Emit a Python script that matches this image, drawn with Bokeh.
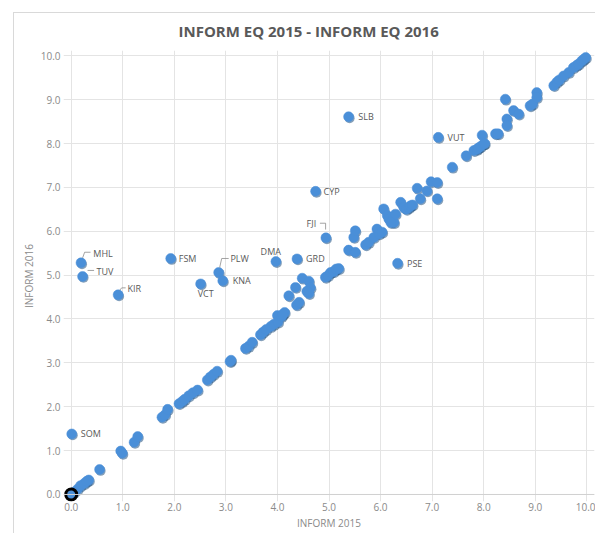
from bokeh.plotting import figure
from bokeh.models import FixedTicker, NumeralTickFormatter, Span, ColumnDataSource, InlineStyleSheet
from bokeh.core.properties import value
from bokeh.embed import file_html
from bokeh.resources import INLINE

# ---------------- data ----------------
title_text = "INFORM EQ 2015 - INFORM EQ 2016"
x_title = "INFORM 2015"
y_title = "INFORM 2016"
tick_values = [0, 1, 2, 3, 4, 5, 6, 7, 8, 9, 10]

# labelled countries (INFORM 2015, INFORM 2016)
codes = ["MHL", "TUV", "KIR", "FSM", "PLW", "VCT", "KNA", "DMA", "GRD", "FJI",
         "CYP", "SLB", "VUT", "PSE", "SOM"]
code_x = [0.19, 0.22, 0.91, 1.93, 2.86, 2.51, 2.94, 3.97, 4.38, 4.94,
          4.74, 5.38, 7.12, 6.33, 0.01]
code_y = [5.28, 4.97, 4.55, 5.38, 5.06, 4.80, 4.87, 5.31, 5.37, 5.85,
          6.91, 8.61, 8.14, 5.27, 1.38]

# other countries (INFORM 2015)
other_x = [0.05, 0.12, 0.18, 0.25, 0.30, 0.34, 0.55, 0.96, 0.99, 1.22, 1.29,
           1.76, 1.82, 1.87, 2.09, 2.15, 2.20, 2.28, 2.36, 2.45, 2.64, 2.70,
           2.76, 2.83, 3.08, 3.10, 3.38, 3.44, 3.51, 3.67, 3.72, 3.78, 3.87,
           3.93, 4.01, 4.00, 4.08, 4.14, 4.10, 4.22, 4.35, 4.37, 4.42, 4.48,
           4.61, 4.64, 4.61, 4.57, 4.93, 4.98, 5.03, 5.09, 5.14, 5.19, 5.38,
           5.51, 5.48, 5.51, 5.71, 5.77, 5.87, 5.93, 5.97, 6.03, 6.06, 6.13,
           6.16, 6.22, 6.26, 6.29, 6.20, 6.39, 6.45, 6.50, 6.55, 6.58, 6.62,
           6.71, 6.77, 6.90, 6.98, 7.10, 7.10, 7.39, 7.66, 7.81, 7.87, 7.90,
           7.94, 8.00, 7.97, 8.02, 8.23, 8.28, 8.42, 8.45, 8.45, 8.58, 8.68,
           8.90, 8.95, 9.03, 9.03, 9.36, 9.42, 9.47, 9.55, 9.65, 9.74, 9.80,
           9.84, 9.90, 9.94, 9.98]
# other countries (INFORM 2016)
other_y = [0.05, 0.12, 0.20, 0.25, 0.30, 0.33, 0.57, 0.99, 0.94, 1.19, 1.32,
           1.76, 1.82, 1.94, 2.07, 2.12, 2.17, 2.25, 2.32, 2.38, 2.61, 2.68,
           2.74, 2.81, 3.03, 3.06, 3.33, 3.38, 3.47, 3.64, 3.70, 3.76, 3.83,
           3.88, 3.93, 4.08, 4.06, 4.15, 4.10, 4.53, 4.72, 4.32, 4.38, 4.93,
           4.86, 4.71, 4.58, 4.63, 4.95, 4.99, 5.06, 5.08, 5.14, 5.15, 5.57,
           5.52, 5.86, 6.01, 5.69, 5.75, 5.86, 6.05, 5.94, 5.98, 6.51, 6.36,
           6.28, 6.24, 6.20, 6.39, 6.20, 6.66, 6.54, 6.50, 6.54, 6.58, 6.60,
           6.98, 6.74, 6.92, 7.13, 7.11, 6.74, 7.46, 7.72, 7.84, 7.87, 7.90,
           7.93, 7.99, 8.19, 8.00, 8.22, 8.22, 9.01, 8.56, 8.41, 8.75, 8.67,
           8.86, 8.90, 9.16, 9.05, 9.32, 9.40, 9.45, 9.54, 9.62, 9.73, 9.78,
           9.81, 9.88, 9.92, 9.96]

# highlighted country at the origin
origin_x = [0.0]
origin_y = [0.0]

# ---------------- layout / style ----------------
W, H = 595, 533
BL, BR, BT, BB = 63, 1, 50, 32
X0, X1 = -0.15, 10.15
Y0, Y1 = -0.16, 10.12
KX = (W - BL - BR) / (X1 - X0)   # pixels per unit
KY = (H - BT - BB) / (Y1 - Y0)

BLUE = "#4a8fd8"
SHADOW = "#23527f"
GREY_TXT = "#595959"
TICK_TXT = "#8a8a8a"
FONT = "Open Sans"

# label offsets in pixels (dx right, dy down)
lab_dx = [12.3, 14.0, 9.3, 8.0, 11.7, -3.0, 10.0, -15.3, 9.0, -19.3, 8.0, 9.7, 9.3, 9.4, 9.0]
lab_dy = [-9.6, -5.3, -6.6, 0.0, -14.0, 10.0, 0.0, -10.0, 0.0, -14.0, 0.0, 0.0, 0.0, 0.0, 0.0]
# leader lines (pixel offsets from the dot), per labelled code
leaders = {
    "MHL": [(1.6, -5.0), (3.6, -10.6), (9.5, -10.6)],
    "TUV": [(5.0, -6.0), (11.5, -6.0)],
    "KIR": [(1.5, -4.5), (3.5, -7.0), (7.5, -7.0)],
    "PLW": [(1.0, -5.0), (3.0, -14.0), (10.0, -14.0)],
    "FJI": [(-6.0, -14.6), (-0.3, -14.6), (-0.3, -8.3)],
}

chart_border = InlineStyleSheet(css="""
:host { position: relative; }
:host::after {
  content: ''; position: absolute; left: 13px; top: 12px; right: 0; bottom: 0;
  border-left: 1px solid #d9d9d9; border-top: 1px solid #d9d9d9;
  pointer-events: none;
}
""")

p = figure(width=W, height=H, output_backend="svg", toolbar_location=None,
           x_range=(X0, X1), y_range=(Y0, Y1), title=title_text,
           min_border_left=BL, min_border_right=BR, min_border_top=BT,
           min_border_bottom=BB, background_fill_color="white",
           border_fill_color="white", outline_line_color=None,
           stylesheets=[chart_border])

p.title.align = "left"
p.title.offset = 178 - BL
p.title.text_font = FONT
p.title.text_font_size = "15px"
p.title.text_font_style = "bold"
p.title.text_color = GREY_TXT
p.title.vertical_align = "bottom"
p.title.standoff = 20

ticker = FixedTicker(ticks=tick_values)
for ax in (p.xaxis[0], p.yaxis[0]):
    ax.ticker = ticker
    ax.formatter = NumeralTickFormatter(format="0.0")
    ax.axis_line_color = None
    ax.major_tick_line_color = None
    ax.minor_tick_line_color = None
    ax.major_tick_out = 0
    ax.major_tick_in = 0
    ax.minor_tick_out = 0
    ax.minor_tick_in = 0
    ax.major_label_text_font = FONT
    ax.major_label_text_font_size = "10px"
    ax.major_label_text_color = TICK_TXT
    ax.axis_label_text_font = FONT
    ax.axis_label_text_font_size = "10px"
    ax.axis_label_text_font_style = "normal"
    ax.axis_label_text_color = TICK_TXT
p.xaxis.major_label_standoff = 1
p.yaxis.major_label_standoff = 3
p.yaxis.axis_label = y_title
p.yaxis.axis_label_standoff = 2
p.xaxis.axis_label = x_title
p.xaxis.axis_label_standoff = 2

for g in (p.xgrid[0], p.ygrid[0]):
    g.ticker = ticker
    g.grid_line_color = "#e4e4e4"
    g.grid_line_width = 1

p.add_layout(Span(location=0, dimension="width", line_color="#d0d0d0", line_width=1))

all_x = code_x + other_x
all_y = code_y + other_y
sx = 1.0 / KX
sy = 1.4 / KY
p.scatter([v + sx for v in all_x], [v - sy for v in all_y], size=10,
          fill_color=SHADOW, fill_alpha=0.55, line_color=None)
p.scatter(all_x, all_y, size=10, fill_color=BLUE, line_color=BLUE, line_width=0.5)
p.scatter(origin_x, origin_y, size=11, fill_color=BLUE, line_color="black", line_width=3)

# leader lines
lxs, lys = [], []
for c, pts in leaders.items():
    i = codes.index(c)
    lxs.append([code_x[i] + dx / KX for dx, dy in pts])
    lys.append([code_y[i] - dy / KY for dx, dy in pts])
p.multi_line(lxs, lys, line_color="#8c8c8c", line_width=0.8)

src = ColumnDataSource(dict(x=code_x, y=code_y, t=codes, dx=lab_dx, dy=lab_dy))
p.text(x="x", y="y", text="t", x_offset="dx", y_offset="dy", source=src,
       text_font=value(FONT), text_font_size="9px", text_color=GREY_TXT,
       text_baseline="middle", text_align="left")

open("out.html", "w").write(file_html(p, INLINE))
